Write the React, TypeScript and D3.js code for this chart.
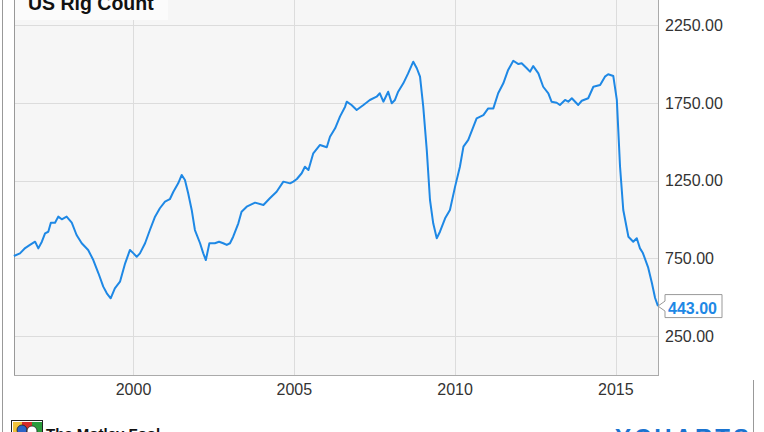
import React from "react";
import * as d3 from "d3";

// Decimal years and US rig count values
const years: number[] = [
  1996.28, 1996.47, 1996.63, 1996.78, 1996.94, 1997.04, 1997.15, 1997.25, 1997.35, 1997.43,
  1997.56, 1997.66, 1997.77, 1997.92, 1998.08, 1998.23, 1998.39, 1998.59, 1998.75, 1998.91,
  1999.06, 1999.17, 1999.29, 1999.42, 1999.58, 1999.74, 1999.89, 2000.0, 2000.1, 2000.2,
  2000.36, 2000.51, 2000.67, 2000.82, 2000.98, 2001.13, 2001.24, 2001.39, 2001.5, 2001.6,
  2001.7, 2001.81, 2001.91, 2002.07, 2002.17, 2002.25, 2002.36, 2002.53, 2002.66, 2002.79,
  2002.9, 2003.0, 2003.1, 2003.26, 2003.36, 2003.52, 2003.78, 2004.04, 2004.24, 2004.45,
  2004.66, 2004.87, 2004.97, 2005.08, 2005.23, 2005.33, 2005.44, 2005.59, 2005.8, 2006.01,
  2006.11, 2006.27, 2006.42, 2006.58, 2006.63, 2006.78, 2006.94, 2007.15, 2007.35, 2007.56,
  2007.66, 2007.77, 2007.92, 2008.03, 2008.13, 2008.23, 2008.39, 2008.54, 2008.7, 2008.81,
  2008.91, 2009.01, 2009.12, 2009.22, 2009.32, 2009.43, 2009.53, 2009.69, 2009.84, 2010.0,
  2010.15, 2010.26, 2010.41, 2010.57, 2010.67, 2010.88, 2011.03, 2011.19, 2011.34, 2011.5,
  2011.65, 2011.81, 2011.97, 2012.07, 2012.23, 2012.33, 2012.43, 2012.59, 2012.74, 2012.9,
  2013.0, 2013.16, 2013.26, 2013.42, 2013.52, 2013.63, 2013.83, 2013.94, 2014.14, 2014.3,
  2014.51, 2014.66, 2014.76, 2014.92, 2015.03, 2015.13, 2015.23, 2015.39, 2015.54, 2015.65,
  2015.75, 2015.84, 2016.0, 2016.12, 2016.22, 2016.31,
];

const rigCount: number[] = [
  765, 782, 816, 836, 857, 814, 857, 911, 921, 979,
  979, 1018, 1001, 1018, 979, 900, 847, 804, 739, 654,
  568, 525, 493, 557, 600, 718, 804, 782, 760, 782,
  847, 932, 1018, 1072, 1114, 1130, 1178, 1232, 1286, 1254,
  1168, 1061, 932, 847, 782, 739, 847, 847, 857, 847,
  836, 847, 889, 975, 1050, 1082, 1108, 1093, 1136, 1178,
  1243, 1232, 1243, 1260, 1297, 1339, 1318, 1425, 1479, 1464,
  1532, 1586, 1661, 1725, 1757, 1736, 1704, 1736, 1768, 1789,
  1811, 1757, 1821, 1747, 1768, 1821, 1875, 1939, 2014, 1972,
  1918, 1725, 1446, 1125, 975, 879, 921, 1007, 1061, 1211,
  1339, 1468, 1511, 1596, 1650, 1671, 1714, 1714, 1811, 1875,
  1961, 2020, 1999, 2004, 1972, 1950, 1986, 1939, 1853, 1811,
  1757, 1750, 1736, 1768, 1757, 1779, 1736, 1763, 1779, 1853,
  1864, 1918, 1933, 1922, 1768, 1339, 1061, 889, 857, 879,
  814, 784, 694, 591, 495, 443,
];

const xTicks: number[] = [2000, 2005, 2010, 2015];
const yTicks: number[] = [250, 750, 1250, 1750, 2250];
const title = "US Rig Count";
const lastLabel = "443.00";

const W = 764;
const H = 432;
const FONT = "'Liberation Sans', Arial, Helvetica, sans-serif";

export default function App() {
  const left = 14;
  const right = 658;
  const bottom = 375;
  const x = d3.scaleLinear().domain([1996.284, 2016.31]).range([left, right]);
  const y = d3.scaleLinear().domain([0, 2250]).range([bottom, 25]);

  const data = years.map((yr, i) => ({ yr, v: rigCount[i] }));
  const line = d3
    .line<{ yr: number; v: number }>()
    .x((d) => x(d.yr))
    .y((d) => y(d.v))
    .curve(d3.curveLinear);

  const last = data[data.length - 1];
  const lx = x(last.yr);
  const ly = y(last.v);
  const bx0 = 665;
  const bx1 = 722;
  const by0 = ly - 11.5;
  const by1 = ly + 11.5;

  return (
    <div style={{ position: "absolute", left: 0, top: 0, width: W, height: H }}>
      <svg width={W} height={H} style={{ display: "block", fontFamily: FONT }}>
        <rect x={0} y={0} width={W} height={H} fill="#fff" />
        {/* plot background */}
        <rect x={left} y={0} width={right - left} height={bottom} fill="#f6f6f6" />
        {/* gridlines */}
        {yTicks.map((t) => (
          <line key={"gy" + t} x1={left} x2={right} y1={Math.round(y(t)) + 0.5} y2={Math.round(y(t)) + 0.5} stroke="#dcdcdc" strokeWidth={1} />
        ))}
        {xTicks.map((t) => (
          <line key={"gx" + t} x1={Math.round(x(t)) + 0.5} x2={Math.round(x(t)) + 0.5} y1={0} y2={bottom} stroke="#dcdcdc" strokeWidth={1} />
        ))}
        {/* title box */}
        <rect x={left + 1} y={0} width={153} height={20} fill="#fbfbfb" />
        <text x={28} y={9.5} fontSize={19.5} fontWeight="bold" fill="#111">{title}</text>
        {/* borders */}
        <line x1={left + 0.5} x2={left + 0.5} y1={0} y2={bottom} stroke="#999" strokeWidth={1} />
        <line x1={right + 0.5} x2={right + 0.5} y1={0} y2={bottom + 1} stroke="#aaa" strokeWidth={1} />
        <line x1={left} x2={right + 1} y1={bottom + 0.5} y2={bottom + 0.5} stroke="#aaa" strokeWidth={1} />
        <line x1={2.5} x2={2.5} y1={0} y2={H} stroke="#999" strokeWidth={1} />
        <line x1={753.5} x2={753.5} y1={380} y2={H} stroke="#999" strokeWidth={1} />
        {/* series */}
        <path d={line(data) || ""} fill="none" stroke="#1e88e5" strokeWidth={2} strokeLinejoin="round" />
        {/* y labels */}
        {yTicks.map((t) => (
          <text key={"ly" + t} x={665} y={y(t)} dy="0.36em" fontSize={16} fill="#333">
            {t.toFixed(2)}
          </text>
        ))}
        {/* x labels */}
        {xTicks.map((t) => (
          <text key={"lx" + t} x={x(t)} y={389} dy="0.36em" fontSize={16} fill="#333" textAnchor="middle">
            {t}
          </text>
        ))}
        {/* last value callout */}
        <path
          d={`M${lx},${ly} L${bx0},${ly - 5} L${bx0},${by0} L${bx1},${by0} L${bx1},${by1} L${bx0},${by1} L${bx0},${ly + 5} Z`}
          fill="#fff"
          stroke="#999"
          strokeWidth={1}
        />
        <text x={668} y={ly + 2} dy="0.36em" fontSize={16} fontWeight="bold" fill="#1e88e5">{lastLabel}</text>
        {/* footer: logo */}
        <g>
          <rect x={11.5} y={420.5} width={31} height={14} fill="#fff" stroke="#222" strokeWidth={1} />
          <rect x={13} y={422} width={9} height={12} fill="#f0c23a" />
          <rect x={22} y={422} width={10} height={12} fill="#d62b2b" />
          <rect x={32} y={422} width={10} height={12} fill="#2c9b3c" />
          <circle cx={22} cy={430} r={5} fill="#2b64c8" stroke="#222" strokeWidth={0.8} />
          <circle cx={32} cy={431} r={5} fill="#fff" stroke="#222" strokeWidth={0.8} />
        </g>
        <text x={46} y={439} fontSize={15} fontWeight="bold" fill="#111">The Motley Fool</text>
        <text x={615} y={446} fontSize={24} fontWeight="bold" fill="#1a73d0" letterSpacing={3}>YCHARTS</text>
      </svg>
    </div>
  );
}
